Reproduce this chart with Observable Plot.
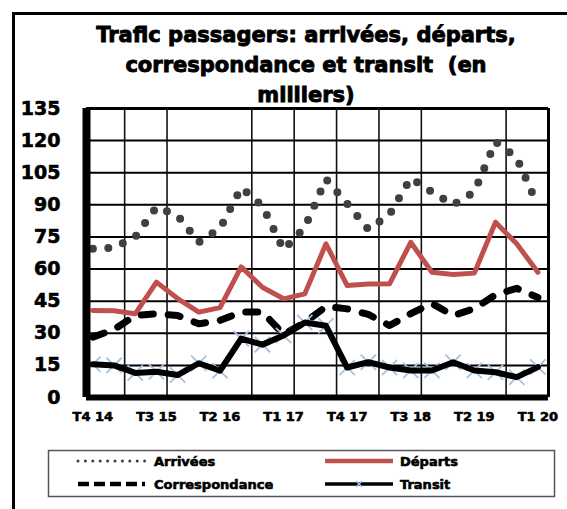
<!DOCTYPE html>
<html>
<head>
<meta charset="utf-8">
<script src="https://cdn.jsdelivr.net/npm/d3@7"></script>
<script src="https://cdn.jsdelivr.net/npm/@observablehq/plot@0.6"></script>
<style>
  html, body { margin: 0; padding: 0; background: #fff; }
  #page { position: relative; width: 567px; height: 509px; overflow: hidden; font-family: "DejaVu Sans", sans-serif; font-weight: bold; }
  #frame { position: absolute; left: 12px; top: 12px; width: 570px; height: 520px; border-top: 3px solid #000; border-left: 3px solid #000; }
  #title { position: absolute; left: 40px; width: 532px; top: 20px; text-align: center; font-size: 21px; line-height: 30px; color: #000; white-space: pre; -webkit-text-stroke: 0.9px #000; }
  #chart { position: absolute; left: 0; top: 100px; }
  #chart text { stroke: #000; stroke-width: 0.6px; }
  #legend { position: absolute; left: 0; top: 0; }
  #legend text { stroke: #000; stroke-width: 0.6px; }
</style>
</head>
<body>
<div id="page">
  <div id="frame"></div>
  <div id="title">Trafic passagers: arrivées, départs,
correspondance et transit  (en
milliers)</div>
  <div id="chart"></div>
  <svg id="legend" width="567" height="509"></svg>
</div>
<script>
// ---- data ----
const quarters = ["T4 14","T1 15","T2 15","T3 15","T4 15","T1 16","T2 16","T3 16","T4 16","T1 17","T2 17",
                  "T3 17","T4 17","T1 18","T2 18","T3 18","T4 18","T1 19","T2 19","T3 19","T4 19","T1 20"];
const arrivees       = [69.5, 70, 75, 89, 85, 72.5, 79, 98, 89.5, 69, 79.5, 102, 90.5, 78.5, 85.5, 102.5, 96, 90, 96, 119.5, 112, 89.5];
const departs        = [40.6, 40.5, 39.1, 53.9, 46.2, 39.9, 42, 61, 51.5, 46.1, 48.4, 71.8, 52.3, 53, 53.1, 72.5, 58.5, 57.5, 58.1, 81.9, 71.8, 58.5];
const correspondance = [28.2, 31.8, 38.3, 39.1, 38.3, 34.4, 36, 39.9, 39.9, 29.5, 35, 42.5, 41.4, 38.8, 33.6, 39.2, 43.9, 38.3, 41.5, 48, 51, 46.7];
const transit        = [15.5, 15, 11.5, 12, 10.5, 16, 12.5, 27.5, 24.7, 29, 35, 33.5, 14, 16.5, 14, 12.6, 12.6, 16.5, 12.6, 11.8, 9.5, 14.2];
const yTicks = [0, 15, 30, 45, 60, 75, 90, 105, 120, 135];
const labelEvery = 3;
const gridAfter = ["T1 15","T3 15","T3 16","T1 17","T3 17","T1 18","T3 18","T3 19"];
const seriesNames = ["Arrivées", "Départs", "Correspondance", "Transit"];

// ---- derived ----
const idx = (d, i) => i;
const val = d => d;
const labelIdx = quarters.map((q, i) => i).filter(i => i % labelEvery === 0);
const vGrid = gridAfter.map(q => quarters.indexOf(q) + 0.5);
const xMin = -0.3, xMax = quarters.length - 0.5;

const chart = Plot.plot({
  width: 567,
  height: 340,
  marginTop: 8,
  marginBottom: 43,
  marginLeft: 86,
  marginRight: 19,
  x: { domain: [xMin, xMax] },
  y: { domain: [0, 135] },
  style: { fontFamily: "DejaVu Sans", fontWeight: "bold", color: "#000", background: "transparent", overflow: "visible" },
  marks: [
    Plot.ruleY(yTicks, { stroke: "#000", strokeWidth: 2 }),
    Plot.ruleY([yTicks[yTicks.length - 1]], { stroke: "#000", strokeWidth: 3 }),
    Plot.ruleX(vGrid, { stroke: "#111", strokeWidth: 1.6 }),
    Plot.ruleX([xMax], { stroke: "#000", strokeWidth: 3 }),
    Plot.line(arrivees, { x: idx, y: val, stroke: "#404040", strokeWidth: 8, strokeDasharray: "0 15.5", strokeLinecap: "round", strokeLinejoin: "round" }),
    Plot.line(departs, { x: idx, y: val, stroke: "#C0504D", strokeWidth: 5, strokeLinejoin: "round" }),
    Plot.line(correspondance, { x: idx, y: val, stroke: "#000", strokeWidth: 7, strokeDasharray: "12 15", strokeLinecap: "round", strokeLinejoin: "round" }),
    Plot.dot(transit, { x: idx, y: val, symbol: "times", r: 7, stroke: "#A4C2E4", strokeWidth: 1.8 }),
    Plot.line(transit, { x: idx, y: val, stroke: "#000", strokeWidth: 6, strokeLinejoin: "round" }),
    Plot.ruleX([xMin], { stroke: "#000", strokeWidth: 8 }),
    Plot.ruleY([0], { stroke: "#000", strokeWidth: 6 }),
    Plot.axisY({ ticks: yTicks, tickSize: 0, tickPadding: 26, fontSize: 19, fontWeight: "bold", label: null }),
    Plot.axisX({ ticks: labelIdx, tickFormat: i => quarters[i], tickSize: 0, tickPadding: 14, fontSize: 13, fontWeight: "bold", label: null })
  ]
});
document.getElementById("chart").appendChild(chart);

// ---- legend ----
const lg = d3.select("#legend");
lg.append("rect").attr("x", 48.5).attr("y", 450.5).attr("width", 506).attr("height", 46)
  .attr("fill", "none").attr("stroke", "#555").attr("stroke-width", 1.5);
const rows = [461, 484];
const cols = [{ s: 78, e: 145, t: 154 }, { s: 325, e: 393, t: 400 }];
const styles = [
  { stroke: "#404040", w: 3, dash: "0 7.4", cap: "round" },
  { stroke: "#C0504D", w: 4.5, dash: null, cap: "butt" },
  { stroke: "#000", w: 4.5, dash: "11 5", cap: "butt" },
  { stroke: "#000", w: 3.5, dash: null, cap: "butt", marker: true }
];
seriesNames.forEach((name, k) => {
  const y = rows[Math.floor(k / 2)], c = cols[k % 2], st = styles[k];
  const ln = lg.append("line").attr("x1", c.s).attr("x2", c.e).attr("y1", y).attr("y2", y)
    .attr("stroke", st.stroke).attr("stroke-width", st.w).attr("stroke-linecap", st.cap);
  if (st.dash) ln.attr("stroke-dasharray", st.dash);
  if (st.marker) {
    const mx = (c.s + c.e) / 2;
    lg.append("path").attr("d", `M${mx - 3},${y - 3}L${mx + 3},${y + 3}M${mx - 3},${y + 3}L${mx + 3},${y - 3}`)
      .attr("stroke", "#A4C2E4").attr("stroke-width", 1.3);
  }
  lg.append("text").attr("x", c.t).attr("y", y + 4.7).text(name)
    .attr("font-family", "DejaVu Sans").attr("font-weight", "bold").attr("font-size", 13).attr("fill", "#000");
});
</script>
</body>
</html>
